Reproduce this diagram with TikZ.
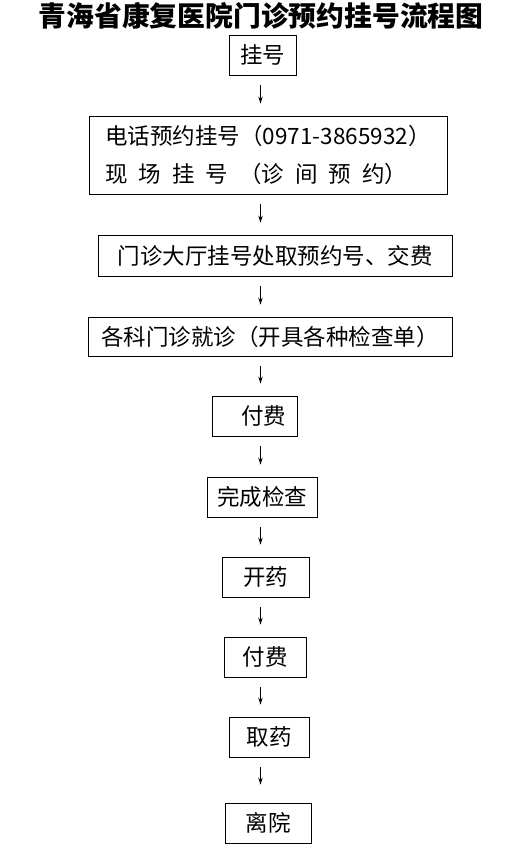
\documentclass[tikz,border=0pt]{standalone}
\usepackage{fontspec}
\usetikzlibrary{arrows.meta,positioning}
\newfontfamily\cjk{Noto Sans CJK SC}
\newcommand{\gap}{\hspace{11pt}}

\begin{document}
\begin{tikzpicture}[x=1pt,y=-1pt,>={Stealth[length=7pt,width=4.5pt]},
    box/.style={draw,line width=0.9pt,inner sep=0pt,minimum height=40pt,
      font=\cjk\fontsize{22.5}{26}\selectfont},
    arr/.style={->,line width=0.9pt,shorten <=10pt,shorten >=12pt}]
      \useasboundingbox (0,0) rectangle (522,851);
      \node[font=\cjk\bfseries\fontsize{27.8}{32}\selectfont] (title) at (261,16)
        {青海省康复医院门诊预约挂号流程图};
      \node[box,minimum width=67pt] (guahao) at (262.5,55) {挂号};
      \node[box,minimum width=358pt,minimum height=78pt,align=left,
        font=\cjk\fontsize{22.5}{38}\selectfont] (yuyue) at (268,155)
        {电话预约挂号（0971-3865932）\\
         现\gap 场\gap 挂\gap 号\gap （诊\gap 间\gap 预\gap 约）};
      \node[box,minimum width=354pt,minimum height=41pt] (dating) at (275,255.5)
        {门诊大厅挂号处取预约号、交费};
      \node[box,minimum width=364pt,minimum height=39pt] (jiuzhen) at (270,336.5)
        {各科门诊就诊（开具各种检查单）};
      \node[box,minimum width=85pt] (fufei1) at (254.5,416) {\hspace{18pt}付费};
      \node[box,minimum width=110pt] (jiancha) at (262,497) {完成检查};
      \node[box,minimum width=87pt] (kaiyao) at (265.5,577) {开药};
      \node[box,minimum width=82pt] (fufei2) at (265,657) {付费};
      \node[box,minimum width=80pt] (quyao) at (269,737) {取药};
      \node[box,minimum width=86pt] (liyuan) at (268,823) {离院};
      % arrows all sit on one vertical line
      \coordinate (axis) at (260.5,0);
      \draw[arr] (guahao.south -| axis) -- (yuyue.north -| axis);
      \draw[arr] (yuyue.south -| axis) -- (dating.north -| axis);
      \draw[arr] (dating.south -| axis) -- (jiuzhen.north -| axis);
      \draw[arr] (jiuzhen.south -| axis) -- (fufei1.north -| axis);
      \draw[arr] (fufei1.south -| axis) -- (jiancha.north -| axis);
      \draw[arr] (jiancha.south -| axis) -- (kaiyao.north -| axis);
      \draw[arr] (kaiyao.south -| axis) -- (fufei2.north -| axis);
      \draw[arr] (fufei2.south -| axis) -- (quyao.north -| axis);
      \draw[arr,shorten >=18pt] (quyao.south -| axis) -- (liyuan.north -| axis);
    \end{tikzpicture}
\end{document}
